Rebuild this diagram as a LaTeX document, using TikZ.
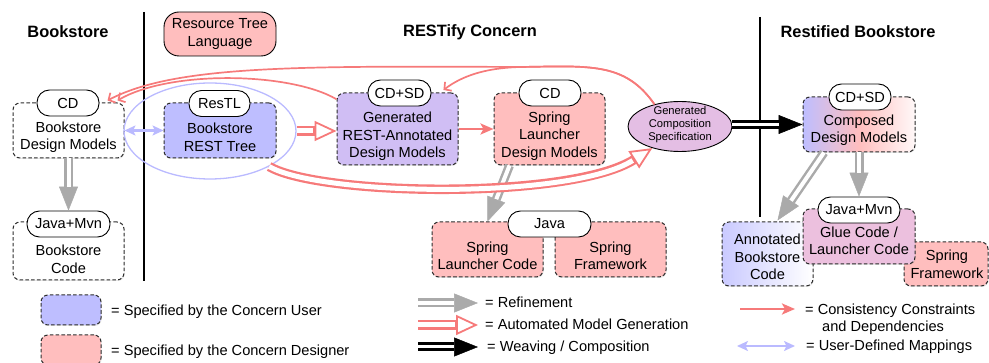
\documentclass[tikz,border=0pt]{standalone}
\usepackage{fontspec}
\setmainfont{Liberation Sans}
\usetikzlibrary{arrows.meta,calc,shadows,shapes.geometric}

\definecolor{userblue}{RGB}{190,190,255}
\definecolor{designpink}{RGB}{255,190,190}
\definecolor{mixblue}{RGB}{208,190,244}
\definecolor{mixpink}{RGB}{228,190,228}
\definecolor{mixglue}{RGB}{236,192,222}
\definecolor{fadeblue}{RGB}{202,202,255}
\definecolor{linkred}{RGB}{246,122,122}
\definecolor{mapblue}{RGB}{186,186,255}
\definecolor{refgray}{RGB}{170,170,170}
\definecolor{dashgray}{RGB}{45,45,45}

\newcommand{\mdlfont}{\fontsize{14.6}{17.5}\selectfont}
\newcommand{\specfont}{\fontsize{11.2}{12.8}\selectfont}
\newcommand{\headfont}{\bfseries\fontsize{16.4}{19}\selectfont}

\begin{document}
\begin{tikzpicture}[x=1pt,y=-1pt,
  mbox/.style={draw=dashgray, line width=1pt, dash pattern=on 3.6pt off 2.2pt,
    rounded corners=7pt, inner sep=0pt,
    drop shadow={shadow xshift=0.7pt, shadow yshift=-1pt, opacity=0.18}},
  tagbox/.style={draw=black, line width=0.9pt, fill=white, rounded corners=12.5pt,
    inner sep=0pt, minimum height=26pt, font=\mdlfont},
  mtext/.style={align=center, inner sep=0pt, font=\mdlfont},
  heading/.style={inner sep=0pt, font=\headfont},
  legtext/.style={anchor=base west, inner sep=0pt, font=\mdlfont},
  consarrow/.style={draw=linkred, line width=2.6pt,
    -{Stealth[length=13pt,width=11pt,inset=3pt]}},
  consthin/.style={draw=linkred, line width=1.7pt,
    -{Straight Barb[length=5pt,width=11pt]}},
  maparrow/.style={draw=mapblue, line width=2.6pt,
    {Stealth[length=11pt,width=10pt,inset=2.5pt]}-{Stealth[length=11pt,width=10pt,inset=2.5pt]}},
  refouter/.style={draw=refgray, line width=9pt,
    -{Triangle[length=24pt,width=19pt,line width=0.5pt]}},
  refinner/.style={draw=white, line width=4pt, shorten >=24pt},
  genouter/.style={draw=linkred, line width=9.5pt,
    -{Triangle[length=22pt,width=20pt,fill=white,line width=1.8pt]}},
  geninner/.style={draw=white, line width=5pt, shorten >=23.2pt},
  weaveouter/.style={draw=black, line width=9pt,
    -{Triangle[length=24pt,width=19pt,line width=0.5pt]}},
  weaveinner/.style={draw=white, line width=3pt, shorten >=24pt},
]
\useasboundingbox (0,0) rectangle (989,363);

% column headings and separators
\node[heading] (hBook) at (68,32) {Bookstore};
\node[heading] (hConc) at (470,32) {RESTify Concern};
\node[heading] (hRest) at (858,32) {Restified Bookstore};
\coordinate (sepAt) at (144,12);
\coordinate (sepAb) at (144,281);
\coordinate (sepBt) at (760,17);
\coordinate (sepBb) at (760,217);
\draw[line width=1.3pt] (sepAt) -- (sepAb);
\draw[line width=1.3pt] (sepBt) -- (sepBb);

\node[draw=black, line width=0.9pt, fill=designpink, rounded corners=15pt,
  minimum width=112pt, minimum height=44pt, inner sep=0pt, align=center,
  font=\mdlfont] (rtl) at (220,34) {Resource Tree\\Language};

% Bookstore column
\node[mbox, fill=white, minimum width=111pt, minimum height=55pt] (bdm) at (68.5,130.5) {};
\node[mtext] (bdmT) at (68.5,137) {Bookstore\\Design Models};
\node[tagbox, minimum width=62pt] (bdmTag) at (68,103) {CD};

\node[mbox, fill=white, minimum width=111pt, minimum height=58pt] (bc) at (68.5,251) {};
\node[mtext] (bcT) at (68.5,259.5) {Bookstore\\Code};
\node[tagbox, minimum width=83pt] (bcTag) at (68.5,224) {Java+Mvn};

% RESTify concern
\node[ellipse, draw=mapblue, line width=1.3pt, minimum width=172pt,
  minimum height=96pt, inner sep=0pt] (restell) at (210,131) {};
\node[mbox, fill=userblue, minimum width=112pt, minimum height=55pt] (brt) at (220,130.5) {};
\node[mtext] (brtT) at (220,137.5) {Bookstore\\REST Tree};
\node[tagbox, minimum width=61pt] (brtTag) at (219.5,103.5) {ResTL};

\node[mbox, fill=mixblue, minimum width=121pt, minimum height=72pt] (gen) at (397.5,129) {};
\node[mtext] (genT) at (397.5,136.5) {Generated\\REST-Annotated\\Design Models};
\node[tagbox, minimum width=63pt] (genTag) at (399.5,93) {CD+SD};

\node[mbox, fill=designpink, minimum width=111pt, minimum height=72pt] (sld) at (549.5,129) {};
\node[mtext] (sldT) at (549.5,136) {Spring\\Launcher\\Design Models};
\node[tagbox, minimum width=62pt] (sldTag) at (550,93) {CD};

\node[ellipse, draw=black, line width=0.9pt, fill=mixpink, minimum width=104pt,
  minimum height=50pt, inner sep=0pt] (gcs) at (680,126.5) {};
\node[align=center, inner sep=0pt, font=\specfont] (gcsT) at (680,124.5)
  {Generated\\Composition\\Specification};

\node[mbox, fill=designpink, minimum width=111pt, minimum height=55pt] (slc) at (487.5,249.5) {};
\node[mtext] (slcT) at (487.5,256) {Spring\\Launcher Code};
\node[mbox, fill=designpink, minimum width=111pt, minimum height=55pt] (sf) at (610.5,249.5) {};
\node[mtext] (sfT) at (610.5,256) {Spring\\Framework};
\node[tagbox, minimum width=83pt] (javaTag) at (549.5,224) {Java};

% Restified bookstore
\node[mbox, left color=userblue, right color=white!90!designpink, middle color=designpink,
  minimum width=112pt, minimum height=55pt] (cdm) at (859,124.5) {};
\node[mtext] (cdmT) at (859,130) {Composed\\Design Models};
\node[tagbox, minimum width=62pt] (cdmTag) at (860,97) {CD+SD};

\node[mbox, left color=fadeblue, right color=white,
  minimum width=91pt, minimum height=64pt] (abc) at (767.5,254) {};
\node[mtext] (abcT) at (767.5,257) {Annotated\\Bookstore\\Code};
\node[mbox, fill=designpink, minimum width=84pt, minimum height=44pt] (sf2) at (946,264) {};
\node[mbox, fill=mixglue, minimum width=112pt, minimum height=55pt] (glue) at (859,236.5) {};
\node[mtext] (sf2T) at (947,264.5) {Spring\\Framework};
\node[mtext] (glueT) at (859,241) {Glue Code /\\Launcher Code};
\node[tagbox, minimum width=82pt] (glueTag) at (859,210) {Java+Mvn};

% user-defined mapping
\draw[maparrow] (bdm.east) -- (brt.west);

% refinements
\draw[refouter] (bdm.south) -- (bcTag.north);
\draw[refinner] (bdm.south) -- (bcTag.north);
\coordinate (sldOut) at ($(sld.south)+(-40,0)$);
\draw[refouter] (sldOut) -- (slc.north);
\draw[refinner] (sldOut) -- (slc.north);
\coordinate (cdmOut) at ($(cdm.south)+(-35,0)$);
\coordinate (abcIn) at ($(abc.north)+(10,-1)$);
\draw[refouter] (cdmOut) -- (abcIn);
\draw[refinner] (cdmOut) -- (abcIn);
\draw[refouter] (cdm.south) -- (glueTag.north);
\draw[refinner] (cdm.south) -- (glueTag.north);

% automated generation
\draw[genouter] (restell.east) -- (restell.east -| gen.west);
\draw[geninner] (restell.east) -- (restell.east -| gen.west);
\draw[genouter] (restell.-31) .. controls (320,196) and (570,200) .. (gcs.-142);
\draw[geninner] (restell.-31) .. controls (320,196) and (570,200) .. (gcs.-142);

% consistency constraints and dependencies
\draw[consarrow] (gen.east) -- (sld.west);
\coordinate (bdmInA) at ($(bdm.north east)+(-17,-2)$);
\coordinate (bdmInB) at ($(bdm.north east)+(-7,-2)$);
\coordinate (genIn) at ($(genTag.east)+(12,-3)$);
\draw[consthin] (gcs.139) .. controls (625,62) and (590,66) .. (520,67)
  .. controls (300,66) and (175,65) .. (bdmInA);
\draw[consthin] (gcs.139) .. controls (625,62) and (590,66) .. (520,67)
  .. controls (485,68) and (462,76) .. (genIn);
\draw[consthin] (gen.154) .. controls (290,72) and (170,70) .. (bdmInB);

% weaving
\draw[weaveouter] (gcs.east |- cdm.west) -- (cdm.west);
\draw[weaveinner] (gcs.east |- cdm.west) -- (cdm.west);

% legend
\node[mbox, fill=userblue, minimum width=60pt, minimum height=30pt] (legU) at (71,310) {};
\node[legtext] (legUT) at (111,316) {= Specified by the Concern User};
\node[mbox, fill=designpink, minimum width=60pt, minimum height=30pt] (legD) at (71,350) {};
\node[legtext] (legDT) at (111,356) {= Specified by the Concern Designer};

\coordinate (lgRa) at (418,303);
\coordinate (lgRb) at (478,303);
\draw[refouter] (lgRa) -- (lgRb);
\draw[refinner] (lgRa) -- (lgRb);
\node[legtext] (lgRt) at (485,308) {= Refinement};

\coordinate (lgGa) at (418,325);
\coordinate (lgGb) at (478,325);
\draw[genouter] (lgGa) -- (lgGb);
\draw[geninner] (lgGa) -- (lgGb);
\node[legtext] (lgGt) at (485,330) {= Automated Model Generation};

\coordinate (lgWa) at (418,347);
\coordinate (lgWb) at (478,347);
\draw[weaveouter] (lgWa) -- (lgWb);
\draw[weaveinner] (lgWa) -- (lgWb);
\node[legtext] (lgWt) at (487,352) {= Weaving / Composition};

\coordinate (lgCa) at (740,309);
\coordinate (lgCb) at (795,309);
\draw[consarrow] (lgCa) -- (lgCb);
\node[legtext] (lgCt) at (805,315) {= Consistency Constraints};
\node[legtext] (lgCu) at (822,332) {and Dependencies};

\coordinate (lgMa) at (737,346);
\coordinate (lgMb) at (795,346);
\draw[maparrow] (lgMa) -- (lgMb);
\node[legtext] (lgMt) at (806,351) {= User-Defined Mappings};
\end{tikzpicture}
\end{document}
